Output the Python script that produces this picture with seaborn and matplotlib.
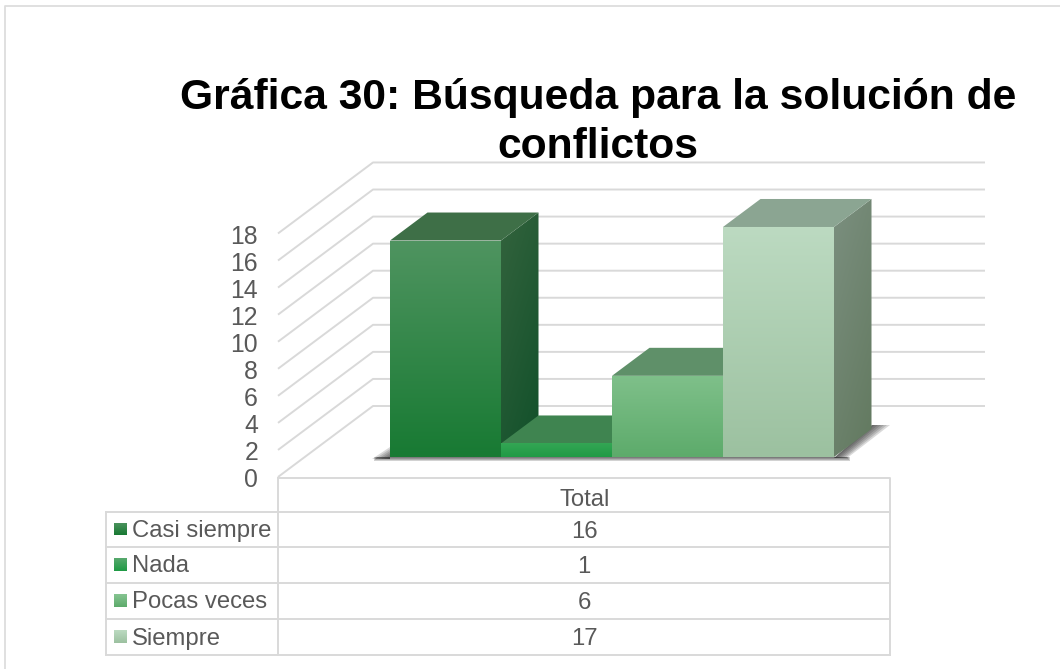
import numpy as np
import pandas as pd
import matplotlib
matplotlib.use("Agg")
import matplotlib.pyplot as plt
from matplotlib.colors import to_rgb
from matplotlib.patches import Polygon, Rectangle
import seaborn as sns

categories = ["Casi siempre", "Nada", "Pocas veces", "Siempre"]
values = [16, 1, 6, 17]
y_ticks = [0, 2, 4, 6, 8, 10, 12, 14, 16, 18]
title_text = "Gráfica 30: Búsqueda para la solución de\nconflictos"
column_label = "Total"

# colours for each series: front top/bottom, roof, side top/bottom
front_top = ["#4F9460", "#34A654", "#7FC08A", "#BCDAC1"]
front_bot = ["#187A33", "#1F9A45", "#5DAB6B", "#9CC1A0"]
roof = ["#3E6F47", "#3F8450", "#5F9069", "#8BA592"]
side_top = ["#33633D", "#2E6B3E", "#4C7D57", "#7B8F7F"]
side_bot = ["#11502A", "#176B30", "#3F7549", "#62795F"]
key_top = ["#4F9460", "#58A96E", "#86C492", "#BCDAC1"]
grid_col = "#D9D9D9"
text_col = "#595959"

W, H = 1060, 669
PX_PER_CAT = 111.0
PX_PER_UNIT = 13.53
DEPTH_X, DEPTH_Y = 37.5, 28.0


def X(px):
    return (px - 445.5) / PX_PER_CAT


def Y(py):
    return (457 - py) / PX_PER_UNIT


def gradient(ax, patch, c1, c2, diagonal=False, z=2):
    # vertical (or diagonal) colour ramp clipped to a patch
    verts = patch.get_path().vertices
    verts = patch.get_patch_transform().transform(verts)
    x0, x1 = verts[:, 0].min(), verts[:, 0].max()
    y0, y1 = verts[:, 1].min(), verts[:, 1].max()
    n = 64
    t = np.linspace(0, 1, n)[:, None]
    if diagonal:
        t = (t + np.linspace(0, 1, n)[None, :] * 0.5) / 1.5
    else:
        t = t * np.ones((n, 2))
    img = np.zeros(t.shape + (3,))
    for i in range(3):
        img[..., i] = to_rgb(c1)[i] * (1 - t) + to_rgb(c2)[i] * t
    im = ax.imshow(img, extent=(x0, x1, y0, y1), origin="upper", aspect="auto",
                   interpolation="bilinear", zorder=z)
    patch.set_transform(ax.transData)
    patch.set_facecolor("none")
    patch.set_edgecolor("none")
    ax.add_patch(patch)
    im.set_clip_path(patch)


def shade(ax, pts, alpha=0.17):
    # one layer of the floor shadow, pts in pixels
    pts = np.asarray(pts, dtype=float)
    ax.add_patch(Polygon(np.c_[X(pts[:, 0]), Y(pts[:, 1])], closed=True,
                         fc="#222222", ec="none", alpha=alpha, zorder=1.5))


sns.set_theme(style="white")
plt.rcParams["font.family"] = ["Liberation Sans", "DejaVu Sans"]

fig = plt.figure(figsize=(W / 100, H / 100), dpi=100, facecolor="white")
ax = fig.add_axes([0, 0, 1, 1])
df = pd.DataFrame({"respuesta": categories, "n": values})
sns.barplot(data=df, x="respuesta", y="n", hue="respuesta", palette=front_bot, width=1.0,
            dodge=False, legend=False, ax=ax, saturation=1, linewidth=0, zorder=2)
fronts = sorted(ax.patches, key=lambda p: p.get_x())
fronts = [p for p in fronts if p.get_height() > 0]
ax.set_xlim(X(0), X(W))
ax.set_ylim(Y(H), Y(0))
ax.axis("off")

# chart frame
ax.plot([X(5), X(5), X(1060)], [Y(669), Y(6), Y(6)], color="#DDDDDD", lw=1.3, zorder=0)

# walls: back gridlines and the diagonal left wall
back_offset = Y(406)
for v in y_ticks:
    yb = v + back_offset
    yf = Y(477) + v
    ax.plot([X(278), X(373), X(985)], [yf, yb, yb], color=grid_col, lw=1.4, zorder=1,
            solid_capstyle="butt")
    ax.text(X(258), yf - 0.25, str(v), ha="right", va="center", fontsize=17.8, color=text_col)

# floor shadow
for k in range(1, 7):
    shade(ax, [(834, 458), (834 + 2.2 * k, 458), (872 + 3 * k, 425), (872, 425)])
    shade(ax, [(390, 459), (390 - 3 * k, 459), (390, 459 - 2 * k)])
for k in range(1, 5):
    shade(ax, [(378 - k, 457), (846 + k, 457), (846 + k, 457 + k), (378 - k, 457 + k)], alpha=0.2)

# bars, painted left to right so each one covers its neighbour's side
dxd, dyd = DEPTH_X / PX_PER_CAT, DEPTH_Y / PX_PER_UNIT
for i, (bar, v) in enumerate(zip(fronts, values)):
    x0 = bar.get_x()
    x1 = x0 + bar.get_width()
    z = 2 + i
    side = Polygon([(x1, 0), (x1 + dxd, dyd), (x1 + dxd, v + dyd), (x1, v)], closed=True)
    gradient(ax, side, side_top[i], side_bot[i], diagonal=True, z=z)
    ax.add_patch(Polygon([(x0, v), (x1, v), (x1 + dxd, v + dyd), (x0 + dxd, v + dyd)], closed=True,
                         fc=roof[i], ec="none", zorder=z + 0.1))
    bar.set_zorder(z + 0.2)
    front = Polygon([(x0, 0), (x1, 0), (x1, v), (x0, v)], closed=True)
    gradient(ax, front, front_top[i], front_bot[i], z=z + 0.3)

# data table under the chart
rows_py = [512, 547, 583, 619, 655]
tbl = dict(color=grid_col, lw=1.4, zorder=1, solid_capstyle="projecting")
ax.plot([X(278), X(890), X(890)], [Y(478), Y(478), Y(655)], **tbl)
ax.plot([X(278), X(278)], [Y(478), Y(655)], **tbl)
ax.plot([X(106), X(106)], [Y(512), Y(655)], **tbl)
for py in rows_py:
    ax.plot([X(106), X(890)], [Y(py), Y(py)], **tbl)
ax.text(X(585), Y(500), column_label, ha="center", va="center", fontsize=17.2, color=text_col)
for i, (c, v) in enumerate(zip(categories, values)):
    mid = (rows_py[i] + rows_py[i + 1]) / 2
    ax.text(X(584), Y(mid + 2), str(v), ha="center", va="center", fontsize=17.2, color=text_col)
    ax.text(X(132), Y(mid + 1.5), c, ha="left", va="center", fontsize=17.2, color=text_col)
    key = Rectangle((X(114), Y(mid + 6)), X(127) - X(114), Y(mid - 7) - Y(mid + 6))
    gradient(ax, key, key_top[i], front_bot[i], z=7)

ax.text(X(598), Y(122.5), title_text, ha="center", va="center", fontsize=30.7, fontweight="bold",
        color="black", linespacing=1.29, zorder=1.2)

ax.set_xlim(X(0), X(W))
ax.set_ylim(Y(H), Y(0))
fig.savefig("out.png", dpi=100, facecolor="white")
plt.close(fig)
